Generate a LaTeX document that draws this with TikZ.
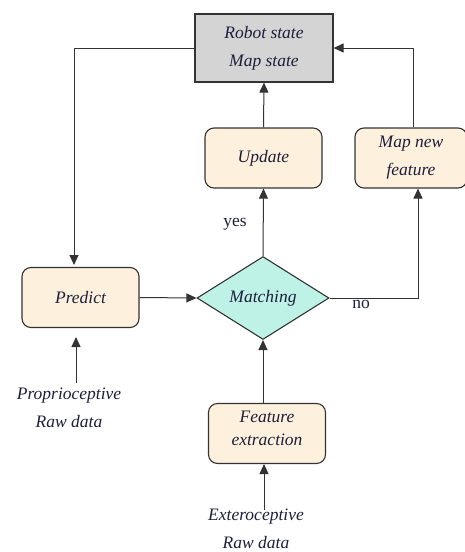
\documentclass[tikz,border=0pt]{standalone}
\usepackage{fontspec}
\setmainfont{Liberation Serif}
\usetikzlibrary{arrows.meta,shapes.geometric}
\definecolor{cream}{RGB}{253,240,220}
\definecolor{boxgray}{RGB}{212,212,212}
\definecolor{aqua}{RGB}{190,242,230}
\definecolor{txt}{RGB}{30,30,60}
\begin{document}
\begin{tikzpicture}[x=1pt,y=-1pt,
  every node/.style={font=\fontsize{17.5}{28}\selectfont\itshape, text=txt},
  statebox/.style={draw=black!80, line width=1.2pt, fill=boxgray, minimum width=138pt, minimum height=68pt, align=center, inner sep=0pt},
  procbox/.style={draw=black!80, line width=1.1pt, fill=cream, rounded corners=9pt, minimum width=117pt, minimum height=60pt, align=center, inner sep=0pt},
  decision/.style={diamond, draw=black!80, line width=1.1pt, fill=aqua, minimum width=132pt, minimum height=76pt, inner sep=0pt},
  plain/.style={align=center, inner sep=0pt},
  lbl/.style={font=\fontsize{17.5}{20}\selectfont, text=txt, inner sep=0pt},
  conn/.style={draw=black!80, line width=1pt},
  arr/.style={conn, -{Triangle[length=10pt,width=9pt]}}
]
\useasboundingbox (0,0) rectangle (465,552);
\node[statebox] (state) at (264,48) {Robot state\\Map state};
\node[procbox] (update) at (263.5,158) {Update};
\node[procbox, minimum width=112pt] (mapnew) at (411,158) {Map new\\feature};
\node[procbox] (predict) at (80.5,297.5) {Predict};
\node[decision] (match) at (263,298) {Matching};
\node[procbox] (feat) at (267,433.5) {};
\node[plain, font=\fontsize{17.5}{23}\selectfont\itshape] (feattext) at (267,428) {Feature\\extraction};
\node[plain] (prop) at (69,408) {Proprioceptive\\Raw data};
\node[plain] (ext) at (256,529) {Exteroceptive\\Raw data};
\node[lbl] (yes) at (235,224) {yes};
\node[lbl] (no) at (361,304) {no};
\coordinate (c1) at (74,48);
\coordinate (c2) at (413,48);
\coordinate (c3) at (418,298);
\coordinate (pb) at (76,383);
\coordinate (pt) at (76,337);
\coordinate (eb) at (264,510);
\draw[arr] (state.west) -- (c1) -- (74,265);
\draw[arr] (update.north) -- (state.south);
\draw[arr] (mapnew.north -| c2) -- (c2) -- (state.east);
\draw[arr] (match.north) -- (update.south);
\draw[arr] (match.east) -- (c3) -- (c3 |- mapnew.south);
\draw[arr] (predict.east) -- (match.west);
\draw[arr] (pb) -- (pt);
\draw[arr] (feat.north -| match.south) -- (match.south);
\draw[arr] (eb) -- (eb |- feat.south);
\end{tikzpicture}
\end{document}
